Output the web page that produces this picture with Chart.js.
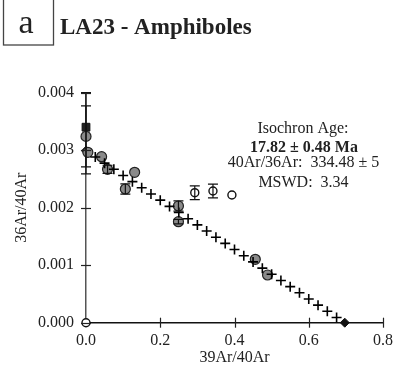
<!DOCTYPE html>
<html>
<head>
<meta charset="utf-8">
<script src="https://cdn.jsdelivr.net/npm/chart.js@4"></script>
<style>
  html, body { margin: 0; padding: 0; background: #fff; }
  #wrap { position: relative; width: 401px; height: 371px; }
</style>
</head>
<body>
<div id="wrap"><canvas id="iso" width="401" height="371"></canvas></div>
<script>
// isochron fit, shown as plus marks along the line
const fitX = [0.025, 0.05, 0.075, 0.1, 0.125, 0.15, 0.175, 0.2, 0.225, 0.25, 0.275, 0.3, 0.325, 0.35,
  0.375, 0.4, 0.425, 0.45, 0.475, 0.5, 0.525, 0.55, 0.575, 0.6, 0.625, 0.65, 0.675];
const fitY = [0.002883, 0.002775, 0.002668, 0.002560, 0.002453, 0.002346, 0.002238, 0.002131, 0.002023,
  0.001916, 0.001809, 0.001701, 0.001594, 0.001486, 0.001379, 0.001272, 0.001164, 0.001057, 0.000949,
  0.000842, 0.000734, 0.000627, 0.000520, 0.000412, 0.000305, 0.000198, 0.000090];

// steps used in the fit (grey)
const usedX = [0.0, 0.005, 0.042, 0.058, 0.106, 0.131, 0.249, 0.249, 0.456, 0.489];
const usedY = [0.00324, 0.002963, 0.002887, 0.002668, 0.002325, 0.002616, 0.00203, 0.001757, 0.001103, 0.00083];
const usedErr = [0.00053, 0, 0, 0.00007, 0.00009, 0, 0.00009, 0.00004, 0, 0];

// excluded steps (open)
const openX = [0.0, 0.293, 0.342, 0.393];
const openY = [0.0, 0.002261, 0.00229, 0.00222];
const openErr = [0, 0.00012, 0.00012, 0];

// atmospheric point
const atmX = [0.0];
const atmY = [0.0034];
const atmLo = [0.00259];
const atmHi = [0.004];

// intercepts
const icptX = [0.0, 0.697];
const icptY = [0.00299, 0.0];

const serif = '"Liberation Serif", "Times New Roman", serif';

const pts = (xs, ys) => xs.map((x, i) => ({ x: x, y: ys[i] }));

const errorBars = {
  id: 'errorBars',
  afterDatasetsDraw(chart) {
    const { ctx, scales: { x, y } } = chart;
    const bar = (px, lo, hi, cap) => {
      const p = x.getPixelForValue(px);
      const a = y.getPixelForValue(lo);
      const b = y.getPixelForValue(hi);
      ctx.beginPath();
      ctx.moveTo(p, a); ctx.lineTo(p, b);
      ctx.moveTo(p - cap, a); ctx.lineTo(p + cap, a);
      ctx.moveTo(p - cap, b); ctx.lineTo(p + cap, b);
      ctx.stroke();
    };
    ctx.save();
    ctx.strokeStyle = '#111';
    ctx.lineWidth = 1.2;
    atmX.forEach((v, i) => bar(v, atmLo[i], atmHi[i], 5));
    usedX.forEach((v, i) => { if (usedErr[i]) bar(v, usedY[i] - usedErr[i], usedY[i] + usedErr[i], 5); });
    openX.forEach((v, i) => { if (openErr[i]) bar(v, openY[i] - openErr[i], openY[i] + openErr[i], 5); });
    ctx.restore();
  }
};

const decorations = {
  id: 'decorations',
  afterDraw(chart) {
    const { ctx, scales: { x, y } } = chart;
    ctx.save();
    // crossing tick marks
    ctx.strokeStyle = '#222';
    ctx.lineWidth = 1.2;
    const y0 = y.getPixelForValue(0);
    const x0 = x.getPixelForValue(0);
    y.ticks.forEach(t => {
      const p = Math.round(y.getPixelForValue(t.value)) + 0.5;
      ctx.beginPath(); ctx.moveTo(x0 - 5, p); ctx.lineTo(x0 + 5, p); ctx.stroke();
    });
    x.ticks.forEach(t => {
      if (t.value === 0) return;
      const p = Math.round(x.getPixelForValue(t.value)) + 0.5;
      ctx.beginPath(); ctx.moveTo(p, y0 - 5); ctx.lineTo(p, y0 + 5); ctx.stroke();
    });

    // panel label and title
    ctx.strokeStyle = '#444';
    ctx.lineWidth = 1.3;
    ctx.strokeRect(3.5, -1, 50, 46);
    ctx.fillStyle = '#222';
    ctx.textAlign = 'center';
    ctx.textBaseline = 'alphabetic';
    ctx.font = '34px ' + serif;
    ctx.fillText('a', 26, 33);
    ctx.textAlign = 'left';
    ctx.font = 'bold 23px ' + serif;
    ctx.fillText('LA23 - Amphiboles', 60, 34);

    // isochron result
    ctx.textAlign = 'center';
    ctx.font = '16px ' + serif;
    ctx.fillText('Isochron Age:', 303, 133);
    ctx.font = 'bold 16px ' + serif;
    ctx.fillText('17.82 \u00b1 0.48 Ma', 304, 151.5);
    ctx.font = '16px ' + serif;
    ctx.fillText('40Ar/36Ar:  334.48 \u00b1 5', 303.5, 166.5);
    ctx.fillText('MSWD:  3.34', 303.5, 186.5);
    ctx.restore();
  }
};

new Chart(document.getElementById('iso'), {
  type: 'scatter',
  data: {
    datasets: [
      { data: pts(fitX, fitY), pointStyle: 'cross', radius: 5, borderColor: '#000', borderWidth: 1.6 },
      { data: pts(usedX, usedY), pointStyle: 'circle', radius: 5, backgroundColor: '#8a8a8a', borderColor: '#222', borderWidth: 1.2 },
      { data: pts(openX, openY), pointStyle: 'circle', radius: 4, backgroundColor: '#fff', borderColor: '#111', borderWidth: 1.4 },
      { data: pts(atmX, atmY), pointStyle: 'rect', radius: 5.5, backgroundColor: '#222', borderColor: '#111', borderWidth: 1 },
      { data: pts(icptX, icptY), pointStyle: 'rectRot', radius: 4.5, backgroundColor: '#111', borderColor: '#111', borderWidth: 1 }
    ]
  },
  options: {
    responsive: false,
    animation: false,
    devicePixelRatio: 1,
    datasets: { scatter: { clip: false } },
    layout: { autoPadding: false, padding: { top: 92.7, right: 11, left: 0, bottom: 0 } },
    plugins: { legend: { display: false }, tooltip: { enabled: false } },
    elements: { point: { hoverRadius: 5 } },
    scales: {
      x: {
        type: 'linear', min: 0, max: 0.8,
        afterFit: s => { s.height = 48.3; },
        grid: { display: false, drawTicks: false },
        border: { display: true, color: '#111', width: 1.5 },
        ticks: {
          stepSize: 0.2, padding: 8, color: '#222',
          font: { family: serif, size: 16 },
          callback: v => v.toFixed(1)
        },
        title: { display: true, text: '39Ar/40Ar', color: '#222', font: { family: serif, size: 16 }, padding: { top: 0, bottom: 4 } }
      },
      y: {
        type: 'linear', min: 0, max: 0.004,
        afterFit: s => { s.width = 86; },
        grid: { display: false, drawTicks: false },
        border: { display: true, color: '#555', width: 1.5 },
        ticks: {
          stepSize: 0.001, padding: 12, color: '#222',
          font: { family: serif, size: 16 },
          callback: v => v.toFixed(3)
        },
        title: { display: true, text: '36Ar/40Ar', color: '#222', font: { family: serif, size: 16 }, padding: { top: 12, bottom: 0 } }
      }
    }
  },
  plugins: [errorBars, decorations]
});
</script>
</body>
</html>
